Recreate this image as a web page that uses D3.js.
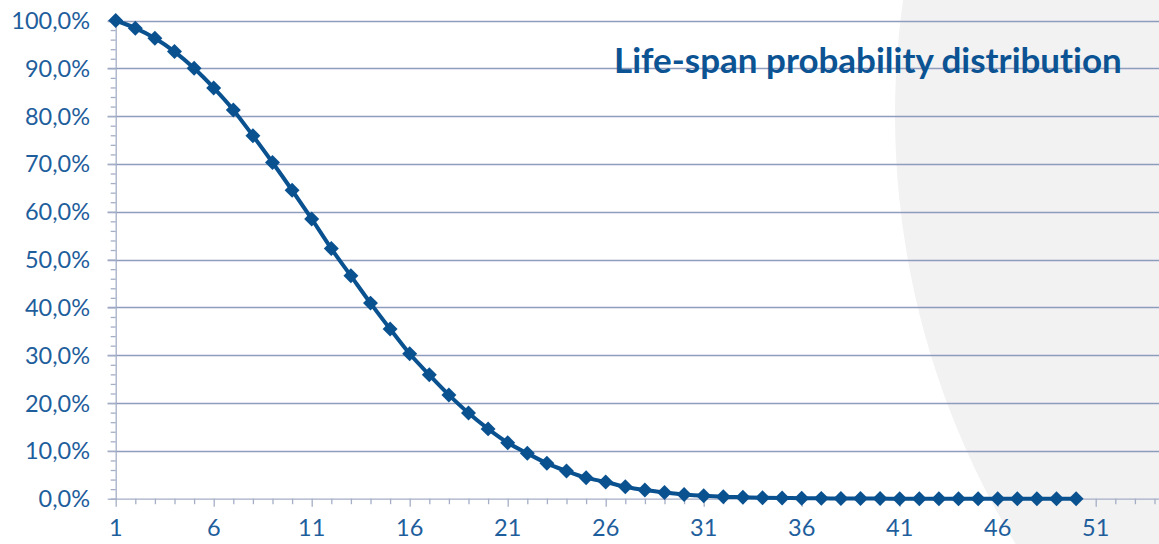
<!DOCTYPE html>
<html>
<head>
<meta charset="utf-8">
<script src="https://cdn.jsdelivr.net/npm/d3@7"></script>
<style>
  body { margin: 0; background: #fff; }
  svg { display: block; }
  text { font-variant-ligatures: none; }
</style>
</head>
<body>
<div id="chart"></div>
<script>
// chart data
var years = d3.range(1, 51);
var survival = [
  100, 98.4, 96.3, 93.5, 90.0, 85.9, 81.3, 75.9, 70.3, 64.5,
  58.5, 52.3, 46.6, 40.9, 35.5, 30.3, 25.9, 21.7, 17.9, 14.6,
  11.7, 9.5, 7.4, 5.8, 4.4, 3.5, 2.5, 1.8, 1.3, 0.9,
  0.6, 0.4, 0.3, 0.2, 0.15, 0.1, 0.07, 0.05, 0.03, 0.02,
  0.01, 0.01, 0.01, 0, 0, 0, 0, 0, 0, 0
];
var xTickLabels = [1, 6, 11, 16, 21, 26, 31, 36, 41, 46, 51];
var yTickValues = [0, 10, 20, 30, 40, 50, 60, 70, 80, 90, 100];
var chartTitle = "Life-span probability distribution";

var svgWidth = 1159;
var svgHeight = 544;

var blue = "#0a5190";
var labelBlue = "#1f5e9c";
var gridColor = "#8e9dbd";
var axisColor = "#a4aec6";

var svg = d3.select("#chart")
  .append("svg")
  .attr("width", svgWidth)
  .attr("height", svgHeight);

// light grey disc in the background, right side
svg.append("circle")
  .attr("cx", 1718)
  .attr("cy", 115)
  .attr("r", 823)
  .attr("fill", "#f2f2f2");

// scales: category 1 sits on the value axis
var x = d3.scaleLinear().domain([1, 51]).range([115.7, 1095.7]);
var y = d3.scaleLinear().domain([0, 100]).range([498.7, 20.5]);

// gridlines
svg.append("g")
  .selectAll("line")
  .data(yTickValues.slice(1))
  .join("line")
  .attr("x1", x(1) - 8)
  .attr("x2", svgWidth)
  .attr("y1", d => Math.round(y(d)) + 0.5)
  .attr("y2", d => Math.round(y(d)) + 0.5)
  .attr("stroke", gridColor)
  .attr("stroke-width", 1.3);

// y axis with minor ticks every 2%
var yAxis = d3.axisLeft(y)
  .tickValues(d3.range(0, 101, 2))
  .tickSize(5)
  .tickFormat("");
var yAxisG = svg.append("g")
  .attr("transform", `translate(${x(1)},0)`)
  .call(yAxis);
yAxisG.selectAll(".tick line")
  .attr("x2", d => d % 10 === 0 ? -8 : -5);

svg.append("g")
  .selectAll("text")
  .data(yTickValues)
  .join("text")
  .attr("x", 90)
  .attr("y", d => y(d))
  .attr("dy", "0.36em")
  .attr("text-anchor", "end")
  .attr("fill", labelBlue)
  .style("font-family", "Lato, 'Open Sans', sans-serif")
  .style("font-size", "23.5px")
  .text(d => d.toFixed(1).replace(".", ",") + "%");

// x axis with a tick per category
var xAxis = d3.axisBottom(x)
  .tickValues(d3.range(1, 56))
  .tickSize(6)
  .tickSizeOuter(0)
  .tickFormat("");
var xAxisG = svg.append("g")
  .attr("transform", `translate(0,${y(0)})`)
  .call(xAxis);
xAxisG.select(".domain").attr("d", `M${x(1)},0.5H${svgWidth}`);
xAxisG.selectAll(".tick line")
  .attr("y2", d => (d - 1) % 5 === 0 ? 8 : 5.5);

svg.append("g")
  .selectAll("text")
  .data(xTickLabels)
  .join("text")
  .attr("x", d => x(d))
  .attr("y", 536)
  .attr("text-anchor", "middle")
  .attr("fill", labelBlue)
  .style("font-family", "Lato, 'Open Sans', sans-serif")
  .style("font-size", "23.5px")
  .text(d => d);

svg.selectAll(".domain, .tick line")
  .attr("stroke", axisColor)
  .attr("stroke-width", 1.3);

// series line
var points = years.map((yr, i) => ({ yr: yr, v: survival[i] }));
var line = d3.line()
  .x(d => x(d.yr))
  .y(d => y(d.v))
  .curve(d3.curveMonotoneX);

svg.append("path")
  .datum(points)
  .attr("d", line)
  .attr("fill", "none")
  .attr("stroke", blue)
  .attr("stroke-width", 4)
  .attr("stroke-linejoin", "round");

// diamond markers
var diamond = d3.symbol().type(d3.symbolSquare).size(112);
svg.append("g")
  .selectAll("path")
  .data(points)
  .join("path")
  .attr("d", diamond)
  .attr("transform", d => `translate(${x(d.yr)},${y(d.v)}) rotate(45)`)
  .attr("fill", blue);

// title, fitted to its width in the original
var title = svg.append("text")
  .attr("x", 614)
  .attr("y", 73)
  .attr("fill", "#0b5393")
  .style("font-family", "Lato, 'Open Sans', sans-serif")
  .style("font-weight", "bold")
  .style("font-size", "30px")
  .text(chartTitle);
var w = title.node().getComputedTextLength();
title.style("font-size", (30 * 508 / w).toFixed(2) + "px");
</script>
</body>
</html>
